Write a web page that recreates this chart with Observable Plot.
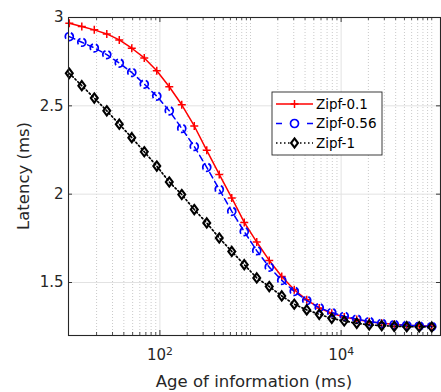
<!DOCTYPE html>
<html>
<head>
<meta charset="utf-8">
<script src="https://cdn.jsdelivr.net/npm/d3@7"></script>
<script src="https://cdn.jsdelivr.net/npm/@observablehq/plot@0.6"></script>
<style>
  body { margin: 0; background: #fff; }
  #chart svg { display: block; font-family: "DejaVu Sans", sans-serif; color: #262626; }
</style>
</head>
<body>
<div id="chart"></div>
<script>
// Age of information (ms), log-spaced sample points
const ageMs = [10, 13.74, 18.87, 25.93, 35.62, 48.94, 67.23, 92.37, 126.9, 174.3,
  239.5, 329.0, 452.0, 621.0, 853.2, 1172, 1610, 2212, 3039, 4175,
  5736, 7880, 10826, 14874, 20434, 28072, 38566, 52983, 72790, 100000];

// Latency (ms) per popularity skew
const zipf01 = [2.968, 2.949, 2.930, 2.907, 2.873, 2.826, 2.771, 2.699, 2.608, 2.506,
  2.386, 2.248, 2.112, 1.979, 1.840, 1.729, 1.625, 1.534, 1.459, 1.402,
  1.356, 1.326, 1.305, 1.290, 1.278, 1.269, 1.263, 1.258, 1.255, 1.252];
const zipf056 = [2.892, 2.860, 2.828, 2.790, 2.742, 2.689, 2.623, 2.555, 2.472, 2.372,
  2.270, 2.152, 2.027, 1.903, 1.788, 1.680, 1.587, 1.512, 1.450, 1.398,
  1.358, 1.330, 1.309, 1.293, 1.279, 1.269, 1.262, 1.257, 1.254, 1.251];
const zipf1 = [2.684, 2.614, 2.544, 2.472, 2.396, 2.320, 2.240, 2.159, 2.069, 1.998,
  1.913, 1.837, 1.752, 1.676, 1.601, 1.526, 1.477, 1.424, 1.377, 1.345,
  1.320, 1.297, 1.282, 1.269, 1.260, 1.256, 1.252, 1.250, 1.249, 1.248];

const seriesNames = ["Zipf-0.1", "Zipf-0.56", "Zipf-1"];
const xTickValues = [100, 10000];
const yTickValues = [1.5, 2, 2.5, 3];

const W = 441, H = 392, ML = 68, MR = 1, MT = 17, MB = 57;
const plotW = W - ML - MR, plotH = H - MT - MB;
const xDomain = [9.8, 1.25e5];

// minor decade positions for the log axis
const minorX = [];
for (let d = 1; d <= 5; d++) {
  for (let k = 1; k <= 9; k++) {
    const v = k * 10 ** d;
    if (v > 10 && v < xDomain[1] && !xTickValues.includes(v)) minorX.push(v);
  }
}

// marker shapes
const plusSymbol = {
  draw(ctx, size) {
    const r = Math.sqrt(size / Math.PI);
    ctx.moveTo(-r, 0); ctx.lineTo(r, 0);
    ctx.moveTo(0, -r); ctx.lineTo(0, r);
  }
};
const diamondSymbol = {
  draw(ctx, size) {
    const r = Math.sqrt(size / Math.PI);
    ctx.moveTo(0, -r); ctx.lineTo(0.75 * r, 0); ctx.lineTo(0, r); ctx.lineTo(-0.75 * r, 0); ctx.closePath();
  }
};

const styles = {
  "Zipf-0.1": {stroke: "#ff0000", dash: null, symbol: plusSymbol, r: 4, sw: 1.5, msw: 1.5},
  "Zipf-0.56": {stroke: "#0000ff", dash: "6,4", symbol: "circle", r: 4, sw: 1.5, msw: 1.7},
  "Zipf-1": {stroke: "#000000", dash: "1.5,2.5", symbol: diamondSymbol, r: 4.6, sw: 1.7, msw: 2.1}
};

const seriesValues = [zipf01, zipf056, zipf1];
const table = seriesNames.map((name, s) => ageMs.map((x, i) => ({x, y: seriesValues[s][i], series: name})));

const seriesMarks = [];
seriesNames.forEach((name, s) => {
  const st = styles[name];
  seriesMarks.push(Plot.line(table[s], {x: "x", y: "y", stroke: st.stroke, strokeWidth: st.sw, strokeDasharray: st.dash}));
  seriesMarks.push(Plot.dot(table[s], {x: "x", y: "y", stroke: st.stroke, fill: "none", r: st.r, symbol: st.symbol,
    strokeWidth: st.msw, strokeDasharray: name === "Zipf-0.56" ? "7,3" : null}));
});

const chart = Plot.plot({
  width: W, height: H,
  marginLeft: ML, marginRight: MR, marginTop: MT, marginBottom: MB,
  style: {fontFamily: "DejaVu Sans, sans-serif", background: "#fff"},
  x: {type: "log", domain: xDomain},
  y: {domain: [1.2, 3]},
  marks: [
    Plot.ruleX(minorX, {stroke: "#bdbdbd", strokeDasharray: "1,2", strokeWidth: 0.8}),
    Plot.ruleX(xTickValues, {stroke: "#e2e2e2", strokeWidth: 1}),
    Plot.ruleY(yTickValues, {stroke: "#e2e2e2", strokeWidth: 1}),
    ...seriesMarks,
    // inward tick marks on all four sides
    Plot.ruleX(minorX, {stroke: "#262626", strokeWidth: 0.8, insetTop: plotH - 3}),
    Plot.ruleX(minorX, {stroke: "#262626", strokeWidth: 0.8, insetBottom: plotH - 3}),
    Plot.ruleX(xTickValues, {stroke: "#262626", strokeWidth: 0.9, insetTop: plotH - 5}),
    Plot.ruleX(xTickValues, {stroke: "#262626", strokeWidth: 0.9, insetBottom: plotH - 5}),
    Plot.ruleY(yTickValues, {stroke: "#262626", strokeWidth: 0.9, insetRight: plotW - 4}),
    Plot.ruleY(yTickValues, {stroke: "#262626", strokeWidth: 0.9, insetLeft: plotW - 4}),
    Plot.frame({stroke: "#262626", strokeWidth: 1.1}),
    Plot.axisX({ticks: xTickValues, tickSize: 0, tickPadding: 14, fontSize: 15, label: null,
      tickFormat: d => "10|" + Math.round(Math.log10(d))}),
    Plot.axisY({ticks: yTickValues, tickSize: 0, tickPadding: 5, fontSize: 15, label: null,
      tickFormat: d => String(d)})
  ]
});

document.getElementById("chart").appendChild(chart);

const svg = d3.select(chart);

// exponent as superscript on the log tick labels
svg.selectAll("g[aria-label='x-axis tick label'] text").each(function() {
  const t = d3.select(this);
  const [base, exp] = t.text().split("|");
  t.text(base);
  t.append("tspan").attr("dy", "-0.5em").attr("font-size", "0.72em").text(exp);
});

// axis titles
svg.append("text")
  .attr("x", ML + plotW / 2).attr("y", 387)
  .attr("text-anchor", "middle").attr("font-size", 16.5).attr("fill", "#262626")
  .text("Age of information (ms)");
svg.append("text")
  .attr("transform", `translate(29,${MT + plotH / 2}) rotate(-90)`)
  .attr("text-anchor", "middle").attr("font-size", 16.5).attr("fill", "#262626")
  .text("Latency (ms)");

// legend box
const lg = svg.append("g").attr("class", "legend");
lg.append("rect").attr("x", 272).attr("y", 92).attr("width", 110).attr("height", 63)
  .attr("fill", "#fff").attr("stroke", "#262626").attr("stroke-width", 0.9);
seriesNames.forEach((name, i) => {
  const st = styles[name];
  const cy = 104 + i * 19.5;
  lg.append("line").attr("x1", 276).attr("x2", 313).attr("y1", cy).attr("y2", cy)
    .attr("stroke", st.stroke).attr("stroke-width", st.sw)
    .attr("stroke-dasharray", name === "Zipf-0.56" ? "6,9.5" : st.dash);
  const sym = st.symbol === "circle" ? d3.symbolCircle : st.symbol;
  lg.append("path").attr("transform", `translate(294.5,${cy})`)
    .attr("d", d3.symbol(sym, st.r * st.r * Math.PI)())
    .attr("fill", name === "Zipf-0.1" ? "none" : "#fff").attr("stroke", st.stroke).attr("stroke-width", st.msw);
  lg.append("text").attr("x", 316).attr("y", cy).attr("dy", "0.35em")
    .attr("text-anchor", "start")
    .attr("font-size", 13.5).attr("fill", "#000").text(name);
});
</script>
</body>
</html>
